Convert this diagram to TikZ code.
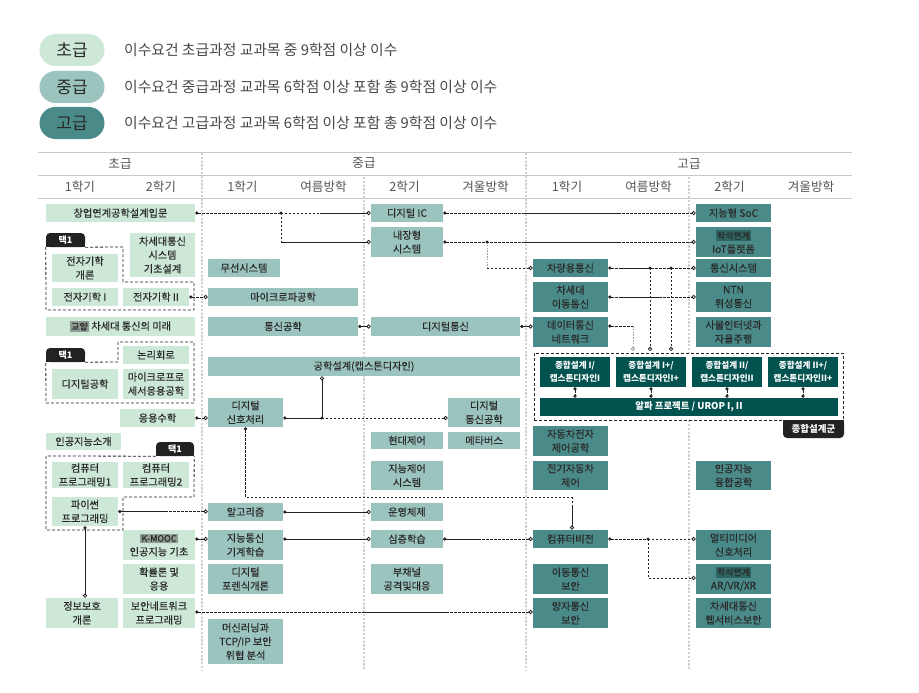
\documentclass[tikz,border=0pt]{standalone}
\usepackage{fontspec}
\setmainfont{Noto Sans CJK KR}
\newfontfamily\bxf{Noto Sans CJK KR}[FakeBold=0.35]
\usetikzlibrary{arrows.meta}
\definecolor{cA}{HTML}{CDE8D6}
\definecolor{cB}{HTML}{9BC4BF}
\definecolor{cC}{HTML}{4A8A88}
\definecolor{dk}{HTML}{02524F}
\definecolor{lc}{HTML}{222222}
\definecolor{tx}{HTML}{2A2A2A}
\definecolor{hd}{HTML}{555555}
\definecolor{sepc}{HTML}{D0D0D0}
\definecolor{hlc}{HTML}{C8C8C8}
\definecolor{tg}{HTML}{8E9C94}
\definecolor{hs}{HTML}{2F6562}
\definecolor{tagc}{HTML}{222222}
\setlength{\fboxsep}{1.3pt}
\newcommand{\mytag}[2]{\colorbox{#1}{\fontsize{9}{9}\selectfont #2}}
\tikzset{
  bx/.style={inner sep=0pt, text=tx, align=center, font=\bxf\fontsize{10.2}{13.8}\selectfont},
  la/.style={bx, fill=cA},
  lb/.style={bx, fill=cB},
  lcx/.style={bx, fill=cC},
  dz/.style={bx, fill=dk, text=white, font=\fontsize{8.6}{12.5}\selectfont\bfseries},
  pill/.style={rounded corners=16pt, minimum width=65pt, minimum height=32pt, inner sep=0pt, text=tx, font=\fontsize{17}{17}\selectfont},
  lgd/.style={anchor=west, inner sep=0pt, text=hd!85!black, font=\fontsize{14.8}{14.8}\selectfont},
  hdr/.style={inner sep=0pt, text=hd, font=\fontsize{12.6}{12.6}\selectfont},
  hline/.style={draw=hlc, line width=0.9pt},
  sepl/.style={draw=sepc, line width=2.6pt, dash pattern=on 2.2pt off 1.6pt},
  tagbox/.style={fill=tagc, text=white, inner sep=0pt, rounded corners=4pt, font=\fontsize{9}{9}\selectfont\bfseries},
  grpl/.style={draw=lc, line width=0.8pt, dash pattern=on 3pt off 2pt},
  ln/.style={draw=lc, line width=0.8pt},
  dl/.style={draw=lc, line width=0.8pt, dash pattern=on 2.4pt off 1.6pt},
  gl/.style={draw=gray!75, line width=0.8pt, dash pattern=on 1.6pt off 1.2pt},
  src/.style={{Circle[length=3.3pt]}-},
  tgt/.style={-{Circle[open,length=4.2pt,fill=white]}},
  both/.style={{Circle[length=3.3pt]}-{Circle[open,length=4.2pt,fill=white]}},
  dotboth/.style={{Circle[length=3.3pt]}-{Circle[length=3.3pt]}},
}
\begin{document}
\begin{tikzpicture}[x=1pt,y=-1pt]
\useasboundingbox (0,0) rectangle (919,693);
\fill[white] (0,0) rectangle (919,693);

% legend
\node[pill, fill=cA] (p1) at (72,50) {초급};
\node[pill, fill=cB] (p2) at (72,87) {중급};
\node[pill, fill=cC] (p3) at (72,123) {고급};
\node[lgd] (q1) at (124,50) {이수요건 초급과정 교과목 중 9학점 이상 이수};
\node[lgd] (q2) at (124,87) {이수요건 중급과정 교과목 6학점 이상 포함 총 9학점 이상 이수};
\node[lgd] (q3) at (124,123) {이수요건 고급과정 교과목 6학점 이상 포함 총 9학점 이상 이수};

% header lines
\draw[hline] (38,152) -- (852,152);
\draw[hline] (38,175.5) -- (852,175.5);
\draw[hline] (38,198) -- (852,198);

% separators
\draw[sepl] (202,153) -- (202,670);
\draw[sepl] (364,177) -- (364,670);
\draw[sepl] (526,153) -- (526,670);
\draw[sepl] (689,177) -- (689,670);

% header text
\node[hdr] (lv1) at (120,163.5) {초급};
\node[hdr] (lv2) at (364,163.5) {중급};
\node[hdr] (lv3) at (689,163.5) {고급};
\node[hdr] (s1) at (80,187) {1학기};
\node[hdr] (s2) at (161,187) {2학기};
\node[hdr] (s3) at (242.5,187) {1학기};
\node[hdr] (s4) at (323.5,187) {여름방학};
\node[hdr] (s5) at (404.5,187) {2학기};
\node[hdr] (s6) at (485.5,187) {겨울방학};
\node[hdr] (s7) at (567,187) {1학기};
\node[hdr] (s8) at (648.5,187) {여름방학};
\node[hdr] (s9) at (729.5,187) {2학기};
\node[hdr] (s10) at (811,187) {겨울방학};

% group outlines (택1)
\fill[tagc] (46,241) rectangle (85,247);
\node[tagbox, minimum width=39pt, minimum height=14pt] (t1a) at (65.5,240) {택1};
\draw[grpl] (t1a.south east) -- (123,247) -- (123,282) -- (194,282) -- (194,310) -- (46,310) -- (t1a.south west);
\fill[tagc] (46,355) rectangle (85,362);
\node[tagbox, minimum width=39pt, minimum height=14pt] (t1b) at (65.5,355) {택1};
\draw[grpl] (t1b.south east) -- (118,362) -- (118,342) -- (194,342) -- (194,403) -- (46,403) -- (t1b.south west);
\fill[tagc] (156,449) rectangle (194,456);
\node[tagbox, minimum width=38pt, minimum height=14pt] (t1c) at (175,449) {택1};
\draw[grpl] (t1c.south west) -- (46,456) -- (46,530) -- (123,530) -- (123,497) -- (194,497) -- (t1c.south east);

% design group
\node[grpl, fill=white, minimum width=309pt, minimum height=67pt, inner sep=0pt] (grp) at (688.5,386.5) {};
\fill[tagc] (783,420) rectangle (844,429);
\node[tagbox, minimum width=61pt, minimum height=18pt, font=\fontsize{9.5}{9.5}\selectfont\bfseries] (dg) at (813.5,429) {종합설계군};

% ---------- 초급 boxes
\node[la, minimum width=149pt, minimum height=18pt] (chang) at (120.5,213) {창업연계공학설계입문};
\node[la, minimum width=66pt, minimum height=28pt] (ee0) at (85,268) {전자기학\\개론};
\node[la, minimum width=66pt, minimum height=18pt] (ee1) at (85,297) {전자기학 I};
\node[la, minimum width=66pt, minimum height=18pt] (ee2) at (156,297) {전자기학 II};
\node[la, minimum width=65pt, minimum height=44pt] (ngs) at (162.5,255) {차세대통신\\시스템\\기초설계};
\node[la, minimum width=149pt, minimum height=19pt] (lib) at (120.5,326.5) {\mytag{tg}{교양} 차세대 통신의 미래};
\node[la, minimum width=66pt, minimum height=18pt] (logic) at (156,355) {논리회로};
\node[la, minimum width=66pt, minimum height=30pt] (dige) at (85,384) {디지털공학};
\node[la, minimum width=66pt, minimum height=30pt] (mpu) at (156,384) {마이크로프로\\세서응용공학};
\node[la, minimum width=75pt, minimum height=18pt] (math) at (157.5,418) {응용수학};
\node[la, minimum width=75pt, minimum height=17pt] (ai0) at (83.5,441.5) {인공지능소개};
\node[la, minimum width=66pt, minimum height=26pt] (cp1) at (85,475) {컴퓨터\\프로그래밍1};
\node[la, minimum width=66pt, minimum height=26pt] (cp2) at (156,475) {컴퓨터\\프로그래밍2};
\node[la, minimum width=66pt, minimum height=29pt] (py) at (85,511.5) {파이썬\\프로그래밍};
\node[la, minimum width=72pt, minimum height=30pt] (kmooc) at (159,545) {\mytag{tg}{K-MOOC}\\인공지능 기초};
\node[la, minimum width=72pt, minimum height=30pt] (prob) at (159,579) {확률론 및\\응용};
\node[la, minimum width=72pt, minimum height=30pt] (secnet) at (159,613) {보안네트워크\\프로그래밍};
\node[la, minimum width=72pt, minimum height=30pt] (infosec) at (82,613) {정보보호\\개론};

% ---------- 중급 boxes
\node[lb, minimum width=72pt, minimum height=18pt] (wire) at (244,268) {무선시스템};
\node[lb, minimum width=150pt, minimum height=18pt] (micro) at (283,297) {마이크로파공학};
\node[lb, minimum width=150pt, minimum height=19pt] (comm) at (283,326.5) {통신공학};
\node[lb, minimum width=72pt, minimum height=18pt] (dic) at (407,213) {디지털 IC};
\node[lb, minimum width=72pt, minimum height=30pt] (emb) at (407,242) {내장형\\시스템};
\node[lb, minimum width=149pt, minimum height=19pt] (dcomm) at (445.5,326.5) {디지털통신};
\node[lb, minimum width=312pt, minimum height=19pt] (cap) at (364,366.5) {공학설계(캡스톤디자인)};
\node[lb, minimum width=75pt, minimum height=29pt] (dsp) at (245.5,412.5) {디지털\\신호처리};
\node[lb, minimum width=72pt, minimum height=29pt] (dcom2) at (484,412.5) {디지털\\통신공학};
\node[lb, minimum width=72pt, minimum height=17pt] (modc) at (407,440.5) {현대제어};
\node[lb, minimum width=72pt, minimum height=17pt] (meta) at (484,440.5) {메타버스};
\node[lb, minimum width=72pt, minimum height=29pt] (ictl) at (407,475.5) {지능제어\\시스템};
\node[lb, minimum width=75pt, minimum height=18pt] (algo) at (245.5,512) {알고리즘};
\node[lb, minimum width=72pt, minimum height=18pt] (os) at (407,512) {운영체제};
\node[lb, minimum width=75pt, minimum height=30pt] (icml) at (245.5,545) {지능통신\\기계학습};
\node[lb, minimum width=72pt, minimum height=18pt] (deep) at (407,539) {심층학습};
\node[lb, minimum width=75pt, minimum height=30pt] (foren) at (245.5,579) {디지털\\포렌식개론};
\node[lb, minimum width=72pt, minimum height=30pt] (side) at (407,579) {부채널\\공격및대응};
\node[lb, minimum width=75pt, minimum height=45pt] (mltcp) at (245.5,641.5) {머신러닝과\\TCP/IP 보안\\위협 분석};

% ---------- 고급 boxes
\node[lcx, minimum width=75pt, minimum height=18pt] (car) at (570.5,268) {차량용통신};
\node[lcx, minimum width=75pt, minimum height=30pt] (ngm) at (570.5,297) {차세대\\이동통신};
\node[lcx, minimum width=75pt, minimum height=30pt] (dnet) at (570.5,332) {데이터통신\\네트워크};
\node[lcx, minimum width=75pt, minimum height=18pt] (soc) at (733.5,213) {지능형 SoC};
\node[lcx, minimum width=75pt, minimum height=30pt] (iot) at (733.5,242) {\mytag{hs}{학석연계}\\IoT플랫폼};
\node[lcx, minimum width=75pt, minimum height=18pt] (csys) at (733.5,268) {통신시스템};
\node[lcx, minimum width=75pt, minimum height=30pt] (ntn) at (733.5,297) {NTN\\위성통신};
\node[lcx, minimum width=75pt, minimum height=30pt] (iota) at (733.5,332) {사물인터넷과\\자율주행};
\node[lcx, minimum width=75pt, minimum height=30pt] (aec) at (570.5,441) {자동차전자\\제어공학};
\node[lcx, minimum width=75pt, minimum height=29pt] (evc) at (570.5,475.5) {전기자동차\\제어};
\node[lcx, minimum width=75pt, minimum height=29pt] (aic) at (733.5,475.5) {인공지능\\융합공학};
\node[lcx, minimum width=75pt, minimum height=18pt] (cv) at (570.5,539) {컴퓨터비전};
\node[lcx, minimum width=75pt, minimum height=30pt] (msec) at (570.5,579) {이동통신\\보안};
\node[lcx, minimum width=75pt, minimum height=30pt] (qsec) at (570.5,613) {양자통신\\보안};
\node[lcx, minimum width=75pt, minimum height=30pt] (mm) at (733.5,545) {멀티미디어\\신호처리};
\node[lcx, minimum width=75pt, minimum height=30pt] (arvr) at (733.5,579) {\mytag{hs}{학석연계}\\AR/VR/XR};
\node[lcx, minimum width=75pt, minimum height=30pt] (ngw) at (733.5,613) {차세대통신\\웹서비스보안};

% ---------- design boxes
\node[dz, minimum width=70pt, minimum height=30pt] (d1) at (575,372) {종합설계 I/\\캡스톤디자인I};
\node[dz, minimum width=70pt, minimum height=30pt] (d2) at (651,372) {종합설계 I+/\\캡스톤디자인I+};
\node[dz, minimum width=70pt, minimum height=30pt] (d3) at (727,372) {종합설계 II/\\캡스톤디자인II};
\node[dz, minimum width=70pt, minimum height=30pt] (d4) at (803,372) {종합설계 II+/\\캡스톤디자인II+};
\node[dz, minimum width=298pt, minimum height=18pt, font=\fontsize{9.4}{9.4}\selectfont\bfseries] (alpha) at (689,407) {알파 프로젝트 / UROP I, II};
\foreach \a in {d1,d2,d3,d4} \draw[dl, dotboth] (\a.south) -- (\a.south |- alpha.north);

% ---------- connectors
\coordinate (r326) at (0,326);
\coordinate (r418) at (0,418);
\coordinate (r539) at (0,539);
\coordinate (r578) at (0,578);
\coordinate (r612) at (0,612);

% 창업연계 -> 디지털 IC / 내장형
\coordinate (j1) at (281,213);
\coordinate (k1) at (320,213);
\coordinate (j1d) at (281,242);
\draw[dl,src] (chang.east) -- (j1);
\draw[dl] (j1) -- (k1);
\draw[ln,tgt] (k1) -- (dic.west);
\draw[dl] (j1) -- (j1d);
\draw[ln,tgt] (j1d) -- (emb.west);
\fill[lc] (j1) circle (1.6pt);

% 디지털 IC -> 지능형 SoC
\draw[dl,both] (dic.east) -- (soc.west);
\coordinate (k2a) at (523,213); \coordinate (k2b) at (620,213);
\draw[ln] (k2a) -- (k2b);

% 내장형 -> IoT, 차량용통신
\draw[dl,both] (emb.east) -- (iot.west);
\coordinate (k3a) at (523,242); \coordinate (k3b) at (620,242);
\draw[ln] (k3a) -- (k3b);
\coordinate (j2) at (487,242); \coordinate (j2d) at (487,268);
\draw[gl] (j2) -- (j2d);
\draw[dl,tgt] (j2d) -- (car.west);
\fill[lc] (j2) circle (1.6pt);

% 차량용통신 -> 통신시스템, 종합설계
\draw[dl,both] (car.east) -- (csys.west);
\coordinate (k4a) at (620,268); \coordinate (j3) at (650,268); \coordinate (j4) at (671,268);
\draw[ln] (k4a) -- (j3);
\coordinate (g1) at (633,351); \coordinate (g2) at (650,351); \coordinate (g3) at (671,351);
\draw[dl,tgt] (j3) -- (g2);
\draw[dl,tgt] (j4) -- (g3);
\fill[lc] (j3) circle (1.6pt);
\fill[lc] (j4) circle (1.6pt);

% 차세대 이동통신 -> NTN
\draw[dl,both] (ngm.east) -- (ntn.west);
\coordinate (k5a) at (622,297); \coordinate (k5b) at (662,297);
\draw[ln] (k5a) -- (k5b);

% 데이터통신 -> 종합설계
\coordinate (k6) at (633,326);
\draw[dl,src] (dnet.east |- r326) -- (k6);
\draw[gl,tgt] (k6) -- (g1);

% short links
\draw[dl,both] (ee2.east) -- (micro.west);
\draw[ln,both] (comm.east) -- (dcomm.west);
\draw[ln,both] (dcomm.east) -- (dcomm.east -| dnet.west);
\draw[dl,both] (math.east) -- (math.east -| dsp.west);

% 디지털 신호처리
\coordinate (j5) at (322,418);
\draw[ln,src] (dsp.east |- r418) -- (j5);
\draw[dl,tgt] (j5) -- (dcom2.west |- r418);
\draw[ln,tgt] (j5) -- (j5 |- cap.south);
\fill[lc] (j5) circle (1.6pt);
\coordinate (k12) at (572,497);
\coordinate (k12c) at (572,506);
\draw[dl,src] (dsp.south) |- (k12);
\draw[dl] (k12) -- (k12c);
\draw[ln,tgt] (k12c) -- (k12 |- cv.north);

% 파이썬
\draw[dl,both] (py.east) -- (py.east -| algo.west);
\coordinate (k13) at (167,511.5);
\draw[ln] (py.east) -- (k13);
\draw[ln,both] (py.south) -- (py.south |- infosec.north);

% 알고리즘 -> 운영체제
\draw[ln,both] (algo.east) -- (os.west);

% K-MOOC -> 지능통신 -> 심층학습 -> 컴퓨터비전
\draw[ln,both] (kmooc.east |- r539) -- (icml.west |- r539);
\draw[ln,both] (icml.east |- r539) -- (deep.west);
\draw[dl,both] (deep.east) -- (cv.west);
\coordinate (k18) at (478,539);
\draw[ln] (deep.east) -- (k18);

% 컴퓨터비전 -> 멀티미디어, AR/VR
\coordinate (j6) at (648,539);
\draw[dl,src] (cv.east) -- (j6);
\draw[dl,tgt] (j6) -- (mm.west |- r539);
\draw[dl,tgt] (j6) |- (arvr.west |- r578);
\fill[lc] (j6) circle (1.6pt);

% 보안네트워크 -> 양자통신
\draw[dl,both] (secnet.east |- r612) -- (qsec.west |- r612);
\coordinate (k20a) at (364,612); \coordinate (k20b) at (448,612);
\draw[ln] (k20a) -- (k20b);
\end{tikzpicture}
\end{document}
